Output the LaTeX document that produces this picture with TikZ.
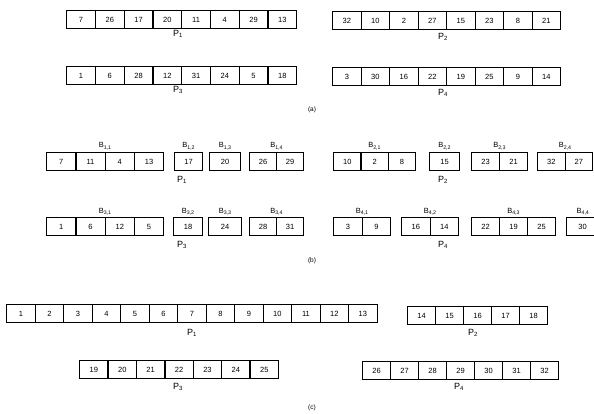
\documentclass[tikz,border=0pt]{standalone}
\usepackage{fontspec}
\setmainfont{Liberation Sans}
\usetikzlibrary{calc}
\tikzset{
  cell/.style={draw, line width=1.3pt, inner sep=0pt, minimum height=18pt, anchor=north west, font=\fontsize{7.5}{8}\selectfont},
  plab/.style={font=\fontsize{9}{10}\selectfont, inner sep=0pt},
  blab/.style={font=\fontsize{7.5}{8}\selectfont, inner sep=0pt, anchor=base},
  caplab/.style={font=\fontsize{6.5}{7}\selectfont, inner sep=0pt}
}
% #1 name, #2 left x, #3 top y, #4 cell width, #5 values
\newcommand\cellrow[5]{%
  \foreach \v [count=\i] in {#5} {
    \node[cell, minimum width=#4pt] (#1-\i) at ({#2+(\i-1)*#4},#3) {\v};
  }%
}
% #1 name, #2 number of cells, #3 subscript
\newcommand\blabel[3]{%
  \node[blab] (#1-lab) at ($(#1-1.north west)!0.5!(#1-#2.north east)+(0,-4)$) {B\textsubscript{#3}};%
}
\begin{document}
\begin{tikzpicture}[x=1pt,y=-1pt]
\useasboundingbox (0,0) rectangle (594,414);
\clip (0,0) rectangle (594,414);

% ---------- (a)
\cellrow{aP1}{66}{10}{28.75}{7,26,17,20,11,4,29,13}
\node[plab] (aP1l) at (178,34) {P\textsubscript{1}};
\cellrow{aP3}{66}{66}{28.75}{1,6,28,12,31,24,5,18}
\node[plab] (aP3l) at (178,90) {P\textsubscript{3}};
\cellrow{aP2}{332}{11}{28.5}{32,10,2,27,15,23,8,21}
\node[plab] (aP2l) at (443,37) {P\textsubscript{2}};
\cellrow{aP4}{332}{67}{28.5}{3,30,16,22,19,25,9,14}
\node[plab] (aP4l) at (443,93) {P\textsubscript{4}};
\node[caplab] (capa) at (312,110) {(a)};

% ---------- (b) top row
\cellrow{B11}{46}{152}{29.25}{7,11,4,13}
\blabel{B11}{4}{1,1}
\cellrow{B12}{174}{152}{28}{17}
\blabel{B12}{1}{1,2}
\cellrow{B13}{209}{152}{31}{20}
\blabel{B13}{1}{1,3}
\cellrow{B14}{249}{152}{27}{26,29}
\blabel{B14}{2}{1,4}
\node[plab] (bP1l) at (182,180) {P\textsubscript{1}};

\cellrow{B21}{333}{152}{27.33}{10,2,8}
\blabel{B21}{3}{2,1}
\cellrow{B22}{429}{152}{30}{15}
\blabel{B22}{1}{2,2}
\cellrow{B23}{471}{152}{28}{23,21}
\blabel{B23}{2}{2,3}
\cellrow{B24}{537}{152}{27.5}{32,27}
\blabel{B24}{2}{2,4}
\node[plab] (bP2l) at (443,180) {P\textsubscript{2}};

% ---------- (b) bottom row
\cellrow{B31}{46}{217}{29.25}{1,6,12,5}
\blabel{B31}{4}{3,1}
\cellrow{B32}{173}{217}{29}{18}
\blabel{B32}{1}{3,2}
\cellrow{B33}{208}{217}{33}{24}
\blabel{B33}{1}{3,3}
\cellrow{B34}{249}{217}{27}{28,31}
\blabel{B34}{2}{3,4}
\node[plab] (bP3l) at (182,245) {P\textsubscript{3}};

\cellrow{B41}{333}{217}{28.5}{3,9}
\blabel{B41}{2}{4,1}
\cellrow{B42}{401}{217}{28.5}{16,14}
\blabel{B42}{2}{4,2}
\cellrow{B43}{471}{217}{28}{22,19,25}
\blabel{B43}{3}{4,3}
\cellrow{B44}{566}{217}{32}{30}
\node[blab] (B44-lab) at (583,213) {B\textsubscript{4,4}};
\node[plab] (bP4l) at (443,245) {P\textsubscript{4}};
\node[caplab] (capb) at (312,261) {(b)};

% ---------- (c)
\cellrow{cP1}{6}{304}{28.5}{1,2,3,4,5,6,7,8,9,10,11,12,13}
\node[plab] (cP1l) at (192,333) {P\textsubscript{1}};
\cellrow{cP2}{407}{306}{28}{14,15,16,17,18}
\node[plab] (cP2l) at (473,333) {P\textsubscript{2}};
\cellrow{cP3}{79}{360}{28.4}{19,20,21,22,23,24,25}
\node[plab] (cP3l) at (178,387) {P\textsubscript{3}};
\cellrow{cP4}{362}{361}{28}{26,27,28,29,30,31,32}
\node[plab] (cP4l) at (459,387) {P\textsubscript{4}};
\node[caplab] (capc) at (312,408) {(c)};
\end{tikzpicture}
\end{document}
